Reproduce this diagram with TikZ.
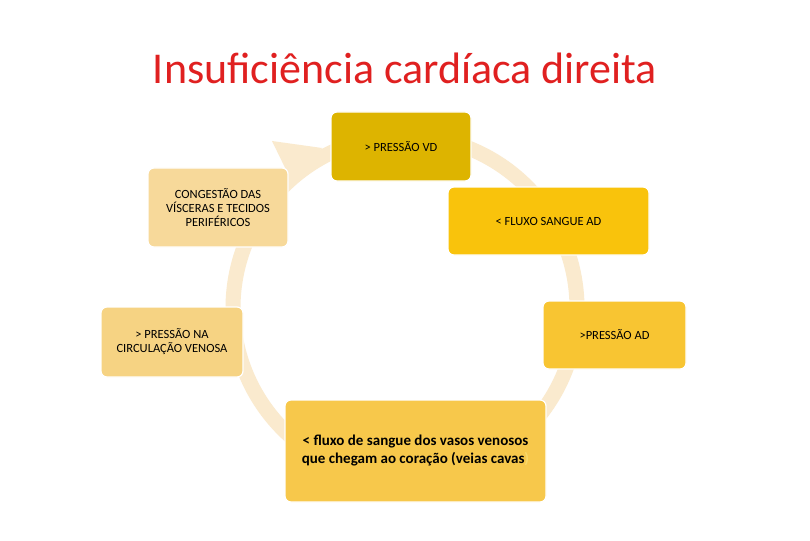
\documentclass[tikz,border=0pt]{standalone}
\usepackage{fontspec}
\setmainfont{Carlito}
\begin{document}
\begin{tikzpicture}[x=1pt,y=-1pt,
  bx/.style={draw=white,line width=1.2pt,rounded corners=6pt,align=center,inner sep=0pt,font=\fontsize{12.5}{14}\selectfont,text=black}]
\useasboundingbox (0,0) rectangle (810,540);
\fill[white] (0,0) rectangle (810,540);
\node (title) at (405,68) {\fontsize{44}{50}\selectfont\color[HTML]{E02020}Insuficiência cardíaca direita};
\draw[line width=15pt,color={rgb,255:red,250;green,234;blue,206}] (405,308) circle (172);
\fill[color={rgb,255:red,250;green,234;blue,206}] (272,141) -- (322,148) -- (291,180) -- cycle;
\node[bx,fill={rgb,255:red,221;green,180;blue,0},minimum width=140,minimum height=69] (b1) at (401,146.5) {> PRESSÃO VD};
\node[bx,fill={rgb,255:red,249;green,195;blue,12},minimum width=201,minimum height=68] (b2) at (548.5,221) {< FLUXO SANGUE AD};
\node[bx,fill={rgb,255:red,248;green,197;blue,50},minimum width=143,minimum height=68] (b3) at (614.5,335) {>PRESSÃO AD};
\node[bx,fill={rgb,255:red,247;green,200;blue,75},minimum width=261,minimum height=102,font=\fontsize{15}{18}\selectfont\bfseries] (b4) at (415.5,451) {< fluxo de sangue dos vasos venosos\\que chegam ao coração (veias cavas{\color[HTML]{F9D86A})}};
\node[bx,fill={rgb,255:red,246;green,211;blue,131},minimum width=142,minimum height=70] (b5) at (172,342) {> PRESSÃO NA\\CIRCULAÇÃO VENOSA};
\node[bx,fill={rgb,255:red,247;green,217;blue,154},minimum width=140,minimum height=79] (b6) at (218,207.5) {CONGESTÃO DAS\\VÍSCERAS E TECIDOS\\PERIFÉRICOS};
\end{tikzpicture}
\end{document}
